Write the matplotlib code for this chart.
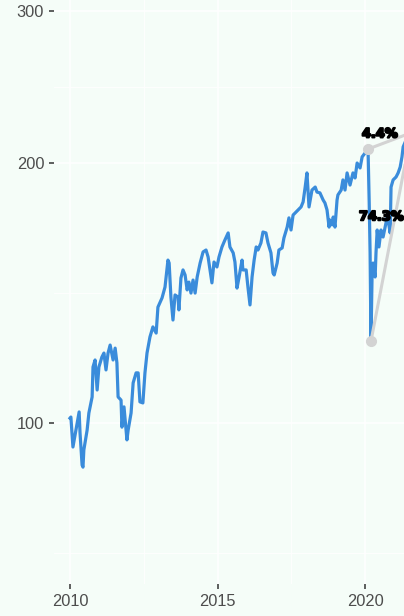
import numpy as np
import matplotlib
matplotlib.use("Agg")
import matplotlib.pyplot as plt
import matplotlib.patheffects as pe
from matplotlib.ticker import FixedLocator, NullFormatter, FixedFormatter

# ---- data (decimal year, index value) ----
dates = [2010.00, 2010.03, 2010.10, 2010.20, 2010.31, 2010.34, 2010.41, 2010.44, 2010.47, 2010.58,
         2010.64, 2010.75, 2010.78, 2010.85, 2010.92, 2010.98, 2011.08, 2011.15, 2011.22, 2011.29,
         2011.36, 2011.46, 2011.53, 2011.59, 2011.63, 2011.73, 2011.76, 2011.83, 2011.93, 2011.97,
         2012.07, 2012.14, 2012.24, 2012.31, 2012.37, 2012.47, 2012.54, 2012.61, 2012.71, 2012.81,
         2012.92, 2012.98, 2013.12, 2013.22, 2013.32, 2013.36, 2013.42, 2013.49, 2013.56, 2013.66,
         2013.69, 2013.76, 2013.83, 2013.90, 2013.97, 2014.03, 2014.10, 2014.17, 2014.24, 2014.31,
         2014.41, 2014.51, 2014.61, 2014.68, 2014.81, 2014.88, 2014.98, 2015.05, 2015.15, 2015.25,
         2015.36, 2015.42, 2015.53, 2015.59, 2015.66, 2015.73, 2015.83, 2015.86, 2015.97, 2016.03,
         2016.10, 2016.17, 2016.24, 2016.31, 2016.37, 2016.47, 2016.54, 2016.64, 2016.71, 2016.81,
         2016.88, 2016.92, 2017.02, 2017.08, 2017.19, 2017.25, 2017.36, 2017.42, 2017.49, 2017.56,
         2017.66, 2017.73, 2017.83, 2017.90, 2017.97, 2018.03, 2018.10, 2018.20, 2018.31, 2018.37,
         2018.47, 2018.58, 2018.64, 2018.71, 2018.78, 2018.81, 2018.88, 2018.92, 2018.98, 2019.05,
         2019.08, 2019.19, 2019.25, 2019.32, 2019.39, 2019.49, 2019.59, 2019.66, 2019.73, 2019.83,
         2019.90, 2020.00, 2020.10, 2020.14, 2020.17, 2020.20, 2020.24, 2020.27, 2020.34, 2020.37,
         2020.41, 2020.47, 2020.54, 2020.61, 2020.68, 2020.75, 2020.78, 2020.85, 2020.88, 2020.95,
         2021.05, 2021.12, 2021.19, 2021.25, 2021.29, 2021.39, 2021.49, 2021.56]
values = [101.3, 101.6, 93.8, 98.1, 103.0, 97.4, 89.4, 88.9, 93.1, 98.1,
          102.7, 107.2, 116.1, 118.3, 109.2, 116.1, 119.2, 120.5, 115.2, 120.5,
          123.1, 118.3, 122.1, 117.4, 107.2, 106.3, 98.9, 104.4, 95.6, 98.1,
          102.7, 111.3, 114.3, 114.3, 105.8, 105.5, 114.3, 120.5, 125.8, 129.2,
          127.1, 136.2, 139.6, 143.7, 154.4, 153.2, 139.9, 131.6, 140.7, 139.9,
          135.2, 147.2, 150.4, 148.4, 142.6, 145.6, 141.4, 146.4, 141.4, 147.6,
          153.2, 157.8, 158.6, 155.7, 145.3, 153.6, 151.6, 155.7, 159.9, 162.9,
          166.0, 159.9, 157.4, 153.6, 143.3, 147.6, 154.4, 150.4, 150.4, 143.7,
          137.0, 147.6, 154.4, 159.9, 158.6, 161.6, 166.4, 166.0, 161.6, 157.4,
          149.2, 148.4, 153.2, 158.6, 159.5, 163.8, 168.6, 172.8, 167.3, 174.1,
          175.5, 176.5, 177.9, 180.3, 187.6, 194.8, 177.9, 186.1, 187.6, 185.1,
          184.7, 181.2, 179.8, 176.5, 168.6, 171.8, 169.6, 173.2, 168.6, 181.2,
          183.7, 186.1, 191.2, 186.1, 194.8, 188.6, 194.8, 192.2, 200.0, 197.4,
          203.3, 205.4, 207.6, 179.8, 157.4, 124.4, 150.4, 153.2, 147.6, 157.4,
          167.3, 159.9, 167.3, 164.2, 168.6, 173.2, 171.8, 166.0, 187.6, 191.2,
          192.7, 194.8, 197.9, 203.3, 208.8, 212.7, 215.5, 216.8]

y_ticks = [100, 200, 300]
x_ticks = [2010, 2015, 2020]
x_tick_labels = ["2010", "2015", "2020"]
crash_year = 2020

# ---- styling ----
BG = "#F5FDF8"
BLUE = "#3A8CDB"
GREY = "#D3D3D3"
TXT = "#4D4D4D"

W, H = 404, 616
fig = plt.figure(figsize=(W / 100, H / 100), dpi=100, facecolor=BG)
# panel extends past the right edge (clipped like the reference)
ax = fig.add_axes([54 / W, (H - 584) / H, (430 - 54) / W, 584 / H])
ax.set_facecolor(BG)

ax.set_yscale("log")
ax.set_xlim(2009.458, 2022.20)
ax.set_ylim(65.1, 308.9)

# grid
major_y = [50] + y_ticks
minor_y = [np.sqrt(a * b) for a, b in zip(major_y[:-1], major_y[1:])]
minor_x = [(a + b) / 2 for a, b in zip(x_ticks[:-1], x_ticks[1:])]
ax.yaxis.set_major_locator(FixedLocator(y_ticks))
ax.yaxis.set_minor_locator(FixedLocator(minor_y))
ax.yaxis.set_major_formatter(FixedFormatter([str(v) for v in y_ticks]))
ax.yaxis.set_minor_formatter(NullFormatter())
ax.xaxis.set_major_locator(FixedLocator(x_ticks))
ax.xaxis.set_minor_locator(FixedLocator(minor_x))
ax.set_xticklabels(x_tick_labels)

ax.grid(True, which="major", color="white", lw=1.1, zorder=0)
ax.grid(True, which="minor", color="white", lw=0.6, zorder=0)
ax.set_axisbelow(True)

for s in ax.spines.values():
    s.set_visible(False)

ax.tick_params(which="major", length=3.6, width=1.1, color="#333333",
               labelcolor=TXT, labelsize=11.8, pad=3.5)
ax.tick_params(which="minor", length=0)
for lab in ax.get_xticklabels() + ax.get_yticklabels():
    lab.set_family(["Liberation Sans", "DejaVu Sans"])

# main line
ax.plot(dates, values, color=BLUE, lw=2.3, zorder=3, solid_joinstyle="round")

# peak / trough (of the crash) to last annotations
d = np.array(dates)
vals = np.array(values)
crash = np.where(d >= crash_year)[0]
i_peak = int(crash[np.argmax(vals[crash][:5])])
after = np.where(d > dates[i_peak])[0]
i_trough = int(after[np.argmin(vals[after])])
i_last = len(values) - 1
for i_from, dy in [(i_peak, 5.0), (i_trough, 14.5)]:
    ax.plot([dates[i_from], dates[i_last]], [values[i_from], values[i_last]],
            color=GREY, lw=2.2, zorder=4, solid_capstyle="round")
    ax.plot([dates[i_from]], [values[i_from]], "o", color=GREY, ms=7, zorder=5)
    pct = (values[i_last] / values[i_from] - 1) * 100
    mx = (dates[i_from] + dates[i_last]) / 2
    my = np.sqrt(values[i_from] * values[i_last])
    ax.annotate(f"{pct:.1f}%", (mx, my), xytext=(-7, dy), textcoords="offset points",
                ha="center", va="center", fontsize=9.3, fontweight="bold", color="black",
                family=["DejaVu Sans"], zorder=6,
                path_effects=[pe.withStroke(linewidth=1.4, foreground="black")])
ax.plot([dates[i_last]], [values[i_last]], "o", color=GREY, ms=7, zorder=5)

fig.savefig("out.png", dpi=100, facecolor=BG)
